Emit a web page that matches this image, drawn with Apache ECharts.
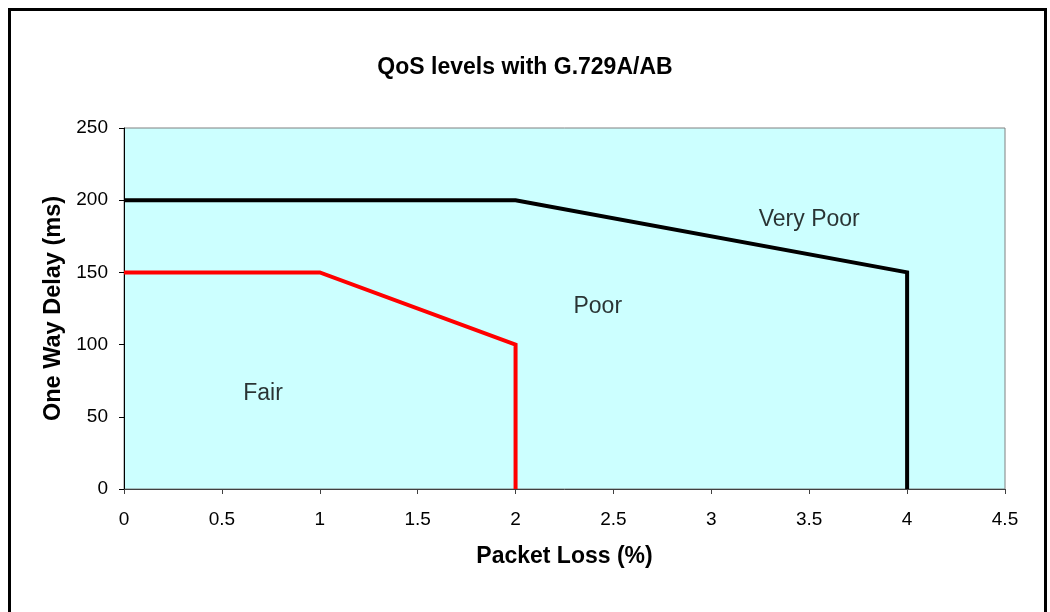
<!DOCTYPE html>
<html>
<head>
<meta charset="utf-8">
<script src="https://cdn.jsdelivr.net/npm/echarts@6/dist/echarts.min.js"></script>
<style>
  html, body { margin: 0; padding: 0; background: #ffffff; }
  #chart { width: 1050px; height: 612px; }
</style>
</head>
<body>
<div id="chart"></div>
<script>
// QoS boundary curves: packet loss (%) vs one-way delay (ms)
const poorBoundary = [[0, 200], [1, 200], [2, 200], [4, 150], [4, 0]];
const fairBoundary = [[0, 150], [1, 150], [2, 100], [2, 0]];

// Region names placed inside the plot (packet loss, delay)
const regionLabels = [
  { name: 'Fair', value: [0.71, 66] },
  { name: 'Poor', value: [2.42, 126] },
  { name: 'Very Poor', value: [3.5, 186.5] }
];

const xRange = { min: 0, max: 4.5, interval: 0.5 };
const yRange = { min: 0, max: 250, interval: 50 };

const FONT = '"Liberation Sans", Arial, sans-serif';

const chart = echarts.init(document.getElementById('chart'), null, { renderer: 'canvas' });

chart.setOption({
  backgroundColor: '#ffffff',
  animation: false,
  title: {
    text: 'QoS levels with G.729A/AB',
    left: 'center',
    top: 51,
    textStyle: { fontFamily: FONT, fontSize: 23, fontWeight: 'bold', color: '#000' }
  },
  graphic: [{
    type: 'rect',
    shape: { x: 9.5, y: 9.5, width: 1036, height: 620 },
    style: { fill: null, stroke: '#000', lineWidth: 3 },
    silent: true
  }],
  grid: {
    left: 124, right: 45, top: 128, bottom: 123,
    show: true,
    backgroundColor: '#CCFFFF',
    borderColor: '#808080',
    borderWidth: 1
  },
  xAxis: {
    type: 'value',
    min: xRange.min, max: xRange.max, interval: xRange.interval,
    name: 'Packet Loss (%)',
    nameLocation: 'middle',
    nameGap: 56,
    nameTextStyle: { fontFamily: FONT, fontSize: 23, fontWeight: 'bold', color: '#000' },
    axisLine: { show: true, lineStyle: { color: '#404040', width: 1 } },
    axisTick: { show: true, length: 5, lineStyle: { color: '#404040' } },
    axisLabel: { fontFamily: FONT, fontSize: 19, color: '#000', margin: 21 },
    splitLine: { show: false }
  },
  yAxis: {
    type: 'value',
    min: yRange.min, max: yRange.max, interval: yRange.interval,
    name: 'One Way Delay (ms)',
    nameLocation: 'middle',
    nameGap: 57,
    nameRotate: 90,
    nameTextStyle: { fontFamily: FONT, fontSize: 23.5, fontWeight: 'bold', color: '#000' },
    axisLine: { show: true, lineStyle: { color: '#000', width: 1 } },
    axisTick: { show: true, length: 5, lineStyle: { color: '#000' } },
    axisLabel: { fontFamily: FONT, fontSize: 19, color: '#000', margin: 16, padding: [4, 0, 0, 0] },
    splitLine: { show: false }
  },
  series: [
    {
      name: 'Poor / Very Poor',
      type: 'line',
      data: poorBoundary,
      symbol: 'none',
      lineStyle: { color: '#000', width: 4, join: 'miter' },
      z: 3
    },
    {
      name: 'Fair / Poor',
      type: 'line',
      data: fairBoundary,
      symbol: 'none',
      lineStyle: { color: '#ff0000', width: 4, join: 'miter' },
      z: 3
    },
    {
      name: 'Regions',
      type: 'scatter',
      data: regionLabels,
      symbolSize: 0,
      silent: true,
      label: {
        show: true,
        position: 'inside',
        formatter: p => p.name,
        fontFamily: FONT,
        fontSize: 23,
        color: '#000'
      }
    }
  ]
});
</script>
</body>
</html>
